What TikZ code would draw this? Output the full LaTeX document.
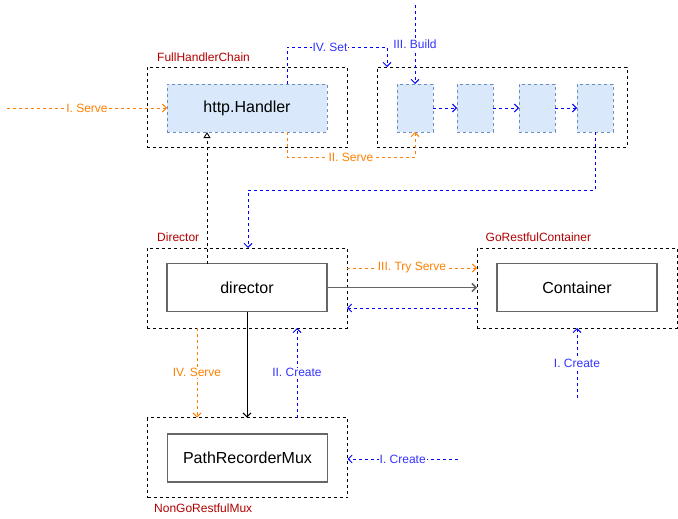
\documentclass[tikz,border=0pt]{standalone}
\usepackage{fontspec}
\setmainfont{Liberation Sans}
\usetikzlibrary{arrows.meta}
\definecolor{grpred}{HTML}{B20000}
\definecolor{orln}{HTML}{FF8000}
\definecolor{blln}{HTML}{0000FF}
\definecolor{bltx}{HTML}{3333FF}
\definecolor{cfill}{HTML}{DAE8FC}
\definecolor{cdraw}{HTML}{6C8EBF}
\definecolor{gline}{HTML}{666666}
\tikzset{
  dsh/.style={dash pattern=on 3pt off 3pt},
  grp/.style={draw=black, dsh, line width=0.9pt, minimum width=200pt, minimum height=80pt, inner sep=0pt, outer sep=0pt},
  inbox/.style={draw=gline, line width=1.5pt, fill=white, minimum width=160pt, minimum height=48pt, inner sep=0pt, outer sep=0pt, font=\fontsize{16}{19}\selectfont},
  bluebox/.style={draw=cdraw, fill=cfill, dsh, line width=0.9pt, inner sep=0pt, outer sep=0pt, font=\fontsize{16}{19}\selectfont},
  grplbl/.style={text=grpred, font=\fontsize{12}{14}\selectfont, anchor=west, inner sep=0pt},
  tip/.style={-{Straight Barb[length=4pt,width=8pt]}},
  orarr/.style={draw=orln, dsh, line width=0.9pt, tip},
  blarr/.style={draw=blln, dsh, line width=0.9pt, tip},
  olbl/.style={text=orln, fill=white, font=\fontsize{12}{14}\selectfont, inner sep=1pt},
  blbl/.style={text=bltx, fill=white, font=\fontsize{12}{14}\selectfont, inner sep=1pt},
}
\begin{document}
\begin{tikzpicture}[x=1pt,y=-1pt]
\useasboundingbox (0,0) rectangle (678,519);

% groups
\node[grp] (fhcO) at (247,107.5) {};
\node[grp, minimum width=250pt] (chO) at (502,107) {};
\node[grp] (dirO) at (247,288) {};
\node[grp] (gO) at (577,288) {};
\node[grp] (nO) at (247.5,457.5) {};

\node[grplbl] (lfhc) at (157,57) {FullHandlerChain};
\node[grplbl] (ldir) at (157,237) {Director};
\node[grplbl] (lgr) at (485.5,237) {GoRestfulContainer};
\node[grplbl] (lngr) at (154,508) {NonGoRestfulMux};

% inner boxes
\node[bluebox, minimum width=160pt, minimum height=48pt] (hh) at (247,108) {http.Handler};
\node[bluebox, minimum width=36pt, minimum height=48pt] (c1) at (415,108) {};
\node[bluebox, minimum width=36pt, minimum height=48pt] (c2) at (475,108) {};
\node[bluebox, minimum width=36pt, minimum height=48pt] (c3) at (537,108) {};
\node[bluebox, minimum width=36pt, minimum height=48pt] (c4) at (595,108) {};

\node[inbox] (dir) at (247,287.5) {director};
\node[inbox] (cont) at (577,287.5) {Container};
\node[inbox] (prm) at (247.5,458) {PathRecorderMux};

% free ends
\coordinate (s1) at (7,108);
\coordinate (setTop) at (387,47);
\coordinate (b0) at (415,5);
\coordinate (sv2) at (415,157);
\coordinate (bk) at (248,190);
\coordinate (gc) at (577,398);
\coordinate (nc) at (458,459);

% FullHandlerChain connectors
\draw[orarr] (s1) -- (hh.west) node[olbl, midway] {I. Serve};
\draw[blarr] ([xshift=40pt]hh.north) |- (setTop) -- (setTop |- chO.north);
\node[blbl] (lset) at (330,47) {IV. Set};
\draw[blarr] (b0) -- (c1.north) node[blbl, midway] {III. Build};
\draw[blarr] (c1.east) -- (c2.west);
\draw[blarr] (c2.east) -- (c3.west);
\draw[blarr] (c3.east) -- (c4.west);
\draw[orarr] ([xshift=40pt]hh.south) |- (sv2) -- (c1.south);
\node[olbl] (lsv2) at (351,157) {II. Serve};
\draw[blarr] (c4.south) |- (bk) -- (bk |- dirO.north);

% director to handler
\draw[draw=black, dsh, line width=0.9pt, -{Triangle[open,length=6pt,width=7pt]}] (dir.north -| 207,0) -- (hh.south -| 207,0);

% director <-> container
\draw[orarr] (dirO.east |- 0,268) -- (gO.west |- 0,268) node[olbl, midway] {III. Try Serve};
\draw[draw=gline, line width=1.5pt, tip] (dir.east) -- (gO.west |- dir.east);
\draw[blarr] (gO.west |- 0,308) -- (dirO.east |- 0,308);

% director <-> mux
\draw[orarr] (dirO.south -| 197,0) -- (nO.north -| 197,0) node[olbl, midway] {IV. Serve};
\draw[draw=black, line width=0.9pt, tip] (dir.south) -- (nO.north -| dir.south);
\draw[blarr] (nO.north -| 297,0) -- (dirO.south -| 297,0) node[blbl, midway] {II. Create};

% creates
\draw[blarr] (gc) -- (gO.south) node[blbl, midway] {I. Create};
\draw[blarr] (nc) -- (nO.east |- nc) node[blbl, midway] {I. Create};
\end{tikzpicture}
\end{document}
